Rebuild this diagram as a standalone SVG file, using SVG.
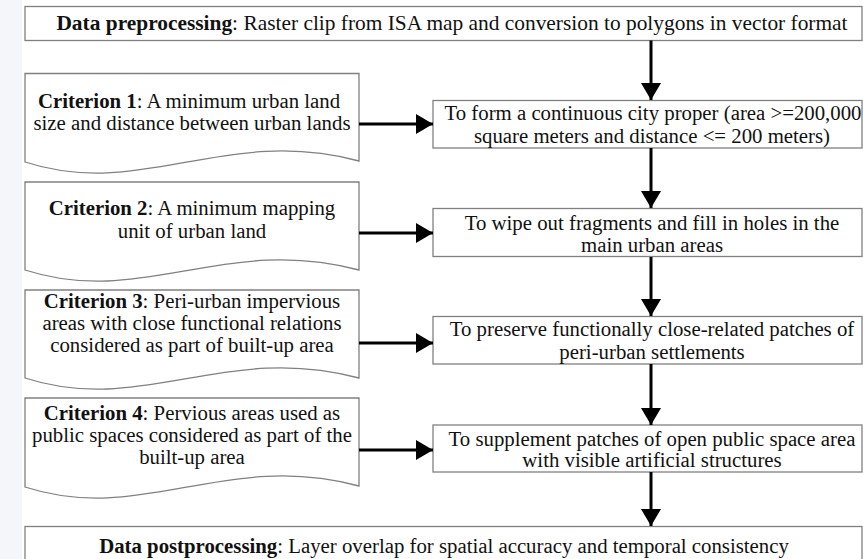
<svg xmlns="http://www.w3.org/2000/svg" width="863" height="559" viewBox="0 0 863 559">
<style>
.bx{fill:#ffffff;stroke:#808080;stroke-width:1.3}
.t{font-family:"Liberation Serif","Times New Roman",serif;font-size:20.8px;fill:#111;text-anchor:middle}
.big{font-size:21.4px}
.b{font-weight:bold}
.ar{stroke:#000;stroke-width:3;fill:none}
</style>
<defs>
<marker id="ah" markerUnits="userSpaceOnUse" markerWidth="18" markerHeight="20" refX="17" refY="10" orient="auto">
<path d="M0,0 L17,10 L0,20 Z" fill="#000"/>
</marker>
</defs>
<rect x="0" y="0" width="863" height="559" fill="#ffffff"/>
<rect x="0" y="0" width="22" height="559" fill="#f4f6f9"/>
<g id="pre">
<rect class="bx" x="25" y="6.5" width="837" height="34"/>
<text class="t big" x="452" y="30"><tspan class="b">Data preprocessing</tspan>: Raster clip from ISA map and conversion to polygons in vector format</text>
</g>
<g id="crit1">
<path class="bx" d="M25,73.5 H359 V161 C225,125 142,200 25,162 Z"/>
<text class="t" x="189" y="108"><tspan class="b">Criterion 1</tspan>: A minimum urban land</text>
<text class="t" x="192" y="130">size and distance between urban lands</text>
</g>
<g id="step1">
<rect class="bx" x="433" y="100.5" width="429" height="47.5"/>
<text class="t" x="653" y="120">To form a continuous city proper (area &gt;=200,000</text>
<text class="t" x="652" y="143">square meters and distance &lt;= 200 meters)</text>
</g>
<g id="crit2">
<path class="bx" d="M25,182 H359 V270 C225,234 142,308 25,270 Z"/>
<text class="t" x="192" y="215"><tspan class="b">Criterion 2</tspan>: A minimum mapping</text>
<text class="t" x="192" y="238">unit of urban land</text>
</g>
<g id="step2">
<rect class="bx" x="433" y="208.5" width="429" height="48"/>
<text class="t" x="652" y="230">To wipe out fragments and fill in holes  in the</text>
<text class="t" x="652" y="252">main urban areas</text>
</g>
<g id="crit3">
<path class="bx" d="M25,290 H359 V378 C225,342 142,416 25,378 Z"/>
<text class="t" x="192" y="308"><tspan class="b">Criterion 3</tspan>: Peri-urban impervious</text>
<text class="t" x="192" y="330">areas with close functional relations</text>
<text class="t" x="192" y="352">considered as part of built-up area</text>
</g>
<g id="step3">
<rect class="bx" x="433" y="316.5" width="429" height="47.5"/>
<text class="t" x="652" y="336">To preserve functionally close-related patches of</text>
<text class="t" x="652" y="359">peri-urban settlements</text>
</g>
<g id="crit4">
<path class="bx" d="M25,398 H359 V486 C225,450 142,525 25,487 Z"/>
<text class="t" x="192" y="420"><tspan class="b">Criterion 4</tspan>: Pervious areas used as</text>
<text class="t" x="192" y="442">public spaces considered as part of the</text>
<text class="t" x="192" y="464">built-up area</text>
</g>
<g id="step4">
<rect class="bx" x="433" y="425" width="429" height="47"/>
<text class="t" x="652" y="446">To supplement patches of open public space area</text>
<text class="t" x="652" y="467">with visible artificial structures</text>
</g>
<g id="post">
<rect class="bx" x="25" y="526.5" width="837" height="40"/>
<text class="t" x="444" y="553"><tspan class="b">Data postprocessing</tspan>: Layer overlap for spatial accuracy and temporal consistency</text>
</g>
<g id="connectors">
<line class="ar" x1="651" y1="40.5" x2="651" y2="100" marker-end="url(#ah)"/>
<line class="ar" x1="651" y1="148" x2="651" y2="208" marker-end="url(#ah)"/>
<line class="ar" x1="651" y1="257" x2="651" y2="316" marker-end="url(#ah)"/>
<line class="ar" x1="651" y1="364" x2="651" y2="425" marker-end="url(#ah)"/>
<line class="ar" x1="651" y1="472" x2="651" y2="526" marker-end="url(#ah)"/>
<line class="ar" x1="359" y1="124" x2="433" y2="124" marker-end="url(#ah)"/>
<line class="ar" x1="359" y1="233" x2="433" y2="233" marker-end="url(#ah)"/>
<line class="ar" x1="359" y1="343" x2="433" y2="343" marker-end="url(#ah)"/>
<line class="ar" x1="359" y1="450" x2="433" y2="450" marker-end="url(#ah)"/>
</g>
</svg>
